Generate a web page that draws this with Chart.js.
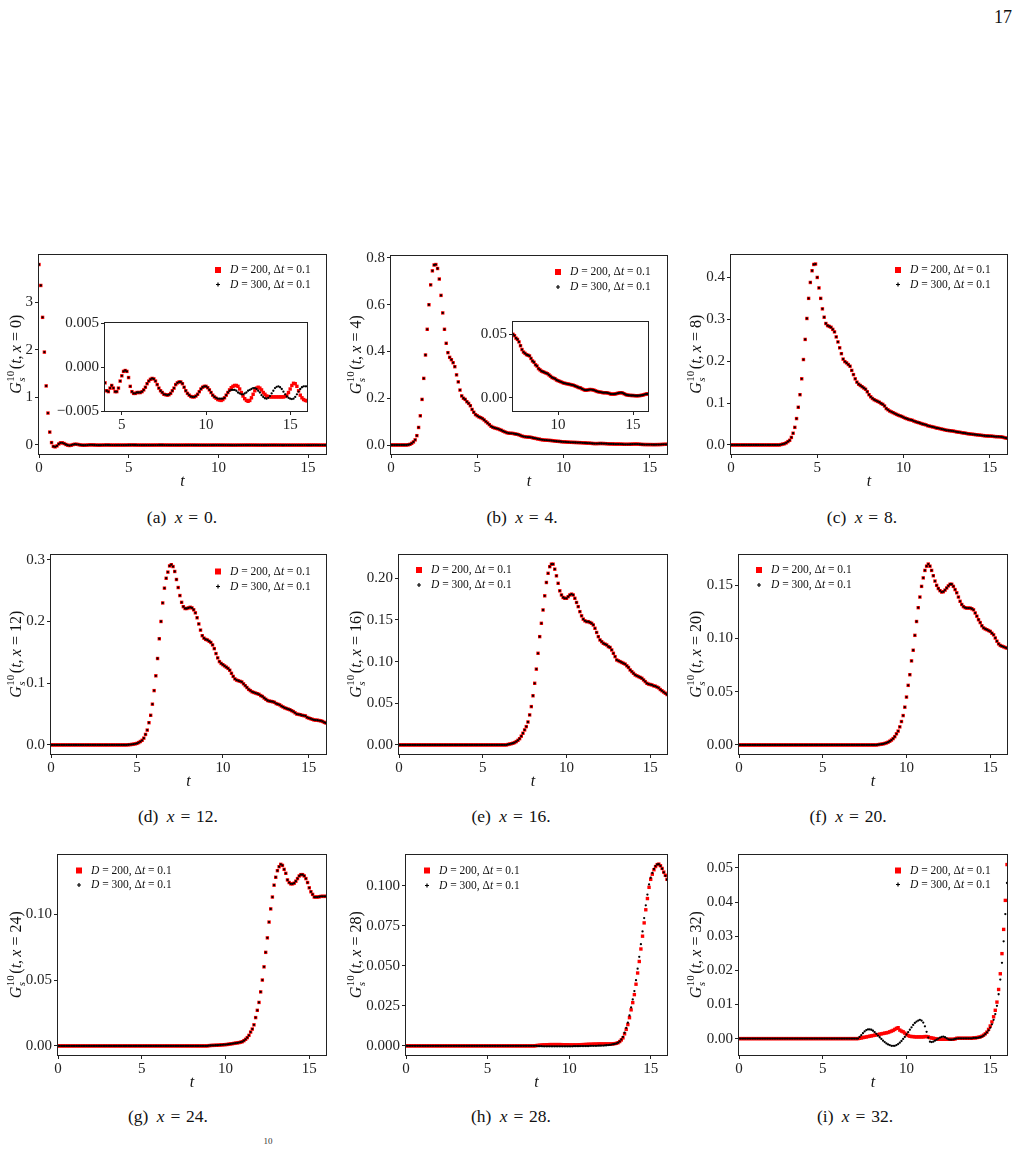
<!DOCTYPE html>
<html>
<head>
<meta charset="utf-8">
<script src="https://cdn.jsdelivr.net/npm/chart.js@4.4.1/dist/chart.umd.min.js"></script>
<style>
  body { margin: 0; width: 1021px; height: 1150px; position: relative; overflow: hidden; background: #fff;
         font-family: "Liberation Serif", serif; color: #111; }
  canvas { position: absolute; }
  .cap { position: absolute; font-size: 17.5px; white-space: nowrap; transform: translate(-50%, -50%); word-spacing: 4px; }
</style>
</head>
<body>
<div class="cap" style="left:1003px;top:17px;font-size:18px">17</div>
<div class="cap" style="left:182px;top:517px">(a) <i>x</i>&#8196;=&#8196;0.</div>
<div class="cap" style="left:522px;top:517px">(b) <i>x</i>&#8196;=&#8196;4.</div>
<div class="cap" style="left:862px;top:517px">(c) <i>x</i>&#8196;=&#8196;8.</div>
<div class="cap" style="left:178px;top:816px">(d) <i>x</i>&#8196;=&#8196;12.</div>
<div class="cap" style="left:511px;top:816px">(e) <i>x</i>&#8196;=&#8196;16.</div>
<div class="cap" style="left:848px;top:816px">(f) <i>x</i>&#8196;=&#8196;20.</div>
<div class="cap" style="left:168px;top:1116px">(g) <i>x</i>&#8196;=&#8196;24.</div>
<div class="cap" style="left:511px;top:1116px">(h) <i>x</i>&#8196;=&#8196;28.</div>
<div class="cap" style="left:855px;top:1116px">(i) <i>x</i>&#8196;=&#8196;32.</div>
<div class="cap" style="left:268px;top:1141px;font-size:9px;color:#333">10</div>

<script>
// tiempos t (paso 0.1)
const T = [
  0,0.1,0.2,0.3,0.4,0.5,0.6,0.7,0.8,0.9,
  1,1.1,1.2,1.3,1.4,1.5,1.6,1.7,1.8,1.9,
  2,2.1,2.2,2.3,2.4,2.5,2.6,2.7,2.8,2.9,
  3,3.1,3.2,3.3,3.4,3.5,3.6,3.7,3.8,3.9,
  4,4.1,4.2,4.3,4.4,4.5,4.6,4.7,4.8,4.9,
  5,5.1,5.2,5.3,5.4,5.5,5.6,5.7,5.8,5.9,
  6,6.1,6.2,6.3,6.4,6.5,6.6,6.7,6.8,6.9,
  7,7.1,7.2,7.3,7.4,7.5,7.6,7.7,7.8,7.9,
  8,8.1,8.2,8.3,8.4,8.5,8.6,8.7,8.8,8.9,
  9,9.1,9.2,9.3,9.4,9.5,9.6,9.7,9.8,9.9,
  10,10.1,10.2,10.3,10.4,10.5,10.6,10.7,10.8,10.9,
  11,11.1,11.2,11.3,11.4,11.5,11.6,11.7,11.8,11.9,
  12,12.1,12.2,12.3,12.4,12.5,12.6,12.7,12.8,12.9,
  13,13.1,13.2,13.3,13.4,13.5,13.6,13.7,13.8,13.9,
  14,14.1,14.2,14.3,14.4,14.5,14.6,14.7,14.8,14.9,
  15,15.1,15.2,15.3,15.4,15.5,15.6,15.7,15.8,15.9,
  16
];

// (a) x = 0
const A200 = [
  3.79,3.35,2.68,1.95,1.24,0.67,0.27,0.05,-0.03,-0.04,
  -0.02,0.02,0.045,0.045,0.03,0.01,-0.005,-0.012,-0.005,0.008,
  0.015,0.014,0.008,0,-0.004,-0.006,-0.005,-0.002,0.001,0.002,
  0.001,-0.001,-0.003,-0.004,-0.004,-0.003,-0.002,-0.001,-0.0008,-0.0012,
  -0.0018,-0.0027,-0.0028,-0.0024,-0.0021,-0.0024,-0.0028,-0.0028,-0.0024,-0.0016,
  -0.0010,-0.0005,-0.0004,-0.0005,-0.0012,-0.0022,-0.0028,-0.0030,-0.0030,-0.0029,
  -0.0029,-0.0029,-0.0028,-0.0026,-0.0023,-0.0019,-0.0016,-0.0014,-0.0013,-0.00135,
  -0.0016,-0.0020,-0.0024,-0.0027,-0.0029,-0.0031,-0.00315,-0.0032,-0.00315,-0.0030,
  -0.0027,-0.0024,-0.0020,-0.0018,-0.0017,-0.0017,-0.0019,-0.0023,-0.0027,-0.0030,
  -0.0032,-0.00335,-0.0034,-0.0034,-0.0033,-0.0031,-0.0028,-0.0025,-0.0023,-0.0022,
  -0.0022,-0.00235,-0.0026,-0.0029,-0.0032,-0.0034,-0.00355,-0.0037,-0.00375,-0.0038,
  -0.0037,-0.0035,-0.0032,-0.0029,-0.0026,-0.00235,-0.0022,-0.0021,-0.0021,-0.0022,
  -0.0025,-0.0029,-0.0033,-0.0036,-0.0038,-0.0039,-0.0038,-0.0035,-0.0031,-0.0027,
  -0.0024,-0.0023,-0.0024,-0.0026,-0.0029,-0.0031,-0.0033,-0.00335,-0.0034,-0.0034,
  -0.0034,-0.0034,-0.0034,-0.0034,-0.0034,-0.0034,-0.0034,-0.00335,-0.0032,-0.0029,
  -0.0025,-0.0021,-0.00185,-0.0019,-0.0022,-0.0027,-0.0032,-0.0035,-0.0037,-0.0038,
  -0.00385
];
const A300 = [
  3.79,3.35,2.68,1.95,1.24,0.67,0.27,0.05,-0.03,-0.04,
  -0.02,0.02,0.045,0.045,0.03,0.01,-0.005,-0.012,-0.005,0.008,
  0.015,0.014,0.008,0,-0.004,-0.006,-0.005,-0.002,0.001,0.002,
  0.001,-0.001,-0.003,-0.004,-0.004,-0.003,-0.002,-0.001,-0.0008,-0.0012,
  -0.0018,-0.0027,-0.0028,-0.0024,-0.0021,-0.0024,-0.0028,-0.0028,-0.0024,-0.0016,
  -0.0010,-0.0005,-0.0004,-0.0005,-0.0012,-0.0022,-0.0028,-0.0030,-0.0030,-0.0029,
  -0.0029,-0.0029,-0.0028,-0.0026,-0.0023,-0.0019,-0.0016,-0.0014,-0.0013,-0.00135,
  -0.0016,-0.0020,-0.0024,-0.0027,-0.0029,-0.0031,-0.00315,-0.0032,-0.00315,-0.0030,
  -0.0027,-0.0024,-0.0020,-0.0018,-0.0017,-0.0017,-0.0019,-0.0023,-0.0027,-0.0030,
  -0.0032,-0.00335,-0.0034,-0.0034,-0.0033,-0.0031,-0.0028,-0.0025,-0.0023,-0.0022,
  -0.0022,-0.00235,-0.0026,-0.0029,-0.0032,-0.0034,-0.0035,-0.0036,-0.0036,-0.0036,
  -0.0036,-0.0035,-0.0032,-0.0029,-0.0027,-0.0026,-0.0026,-0.0026,-0.0027,-0.0029,
  -0.0030,-0.0031,-0.0031,-0.0030,-0.0029,-0.0027,-0.0026,-0.0025,-0.0024,-0.0024,
  -0.0025,-0.0027,-0.0029,-0.0032,-0.0034,-0.00355,-0.0036,-0.0035,-0.0033,-0.0030,
  -0.0027,-0.0024,-0.00225,-0.0022,-0.0023,-0.0025,-0.0028,-0.0031,-0.00335,-0.0035,
  -0.0036,-0.00365,-0.0036,-0.0034,-0.0031,-0.0028,-0.0025,-0.0023,-0.0022,-0.0022,
  -0.0022
];

// (b) x = 4 (D=200 y D=300 coinciden)
const B = [
  0,0,0,0,0,0,0,0,0,0,
  0.001,0.003,0.007,0.013,0.022,0.04,0.075,0.125,0.195,0.285,
  0.385,0.495,0.60,0.685,0.745,0.77,0.772,0.755,0.71,0.64,
  0.565,0.495,0.435,0.395,0.375,0.365,0.352,0.335,0.30,0.27,
  0.235,0.21,0.20,0.195,0.185,0.178,0.168,0.152,0.14,0.13,
  0.125,0.12,0.117,0.113,0.107,0.10,0.094,0.087,0.08,0.076,
  0.073,0.071,0.069,0.066,0.063,0.059,0.056,0.053,0.051,0.05,
  0.05,0.049,0.047,0.046,0.044,0.041,0.038,0.036,0.035,0.034,
  0.0335,0.033,0.031,0.029,0.028,0.026,0.025,0.023,0.022,0.021,
  0.0205,0.02,0.0195,0.019,0.018,0.017,0.016,0.0155,0.015,0.014,
  0.0135,0.013,0.0125,0.012,0.0115,0.0113,0.011,0.0108,0.0105,0.0102,
  0.01,0.0095,0.009,0.0085,0.008,0.0078,0.007,0.0065,0.006,0.006,
  0.0062,0.0065,0.0065,0.0063,0.006,0.0055,0.005,0.0047,0.0045,0.0043,
  0.004,0.004,0.004,0.0038,0.0035,0.003,0.0029,0.0029,0.003,0.0033,
  0.0036,0.0039,0.004,0.0038,0.0032,0.0026,0.0022,0.002,0.0019,0.0018,
  0.0018,0.0017,0.0016,0.0016,0.0017,0.0018,0.002,0.0023,0.0027,0.003,
  0.003
];

// (c) x = 8
const C = [
  0,0,0,0,0,0,0,0,0,0,
  0,0,0,0,0,0,0,0,0,0,
  0,0,0,0,0,0,0,0,0,0.001,
  0.002,0.003,0.005,0.008,0.011,0.018,0.028,0.042,0.063,0.09,
  0.12,0.158,0.204,0.252,0.302,0.35,0.388,0.416,0.431,0.432,
  0.40,0.375,0.35,0.325,0.305,0.29,0.285,0.283,0.281,0.276,
  0.27,0.258,0.246,0.232,0.218,0.205,0.199,0.196,0.192,0.188,
  0.178,0.168,0.158,0.15,0.145,0.142,0.139,0.136,0.133,0.127,
  0.12,0.115,0.111,0.108,0.106,0.104,0.102,0.099,0.097,0.093,
  0.087,0.084,0.081,0.079,0.077,0.075,0.073,0.071,0.0695,0.068,
  0.066,0.064,0.0626,0.061,0.06,0.059,0.057,0.0555,0.054,0.053,
  0.0515,0.05,0.049,0.048,0.046,0.045,0.044,0.043,0.042,0.0405,
  0.04,0.039,0.038,0.037,0.036,0.035,0.0345,0.034,0.0335,0.033,
  0.032,0.031,0.0305,0.03,0.029,0.0285,0.028,0.027,0.0265,0.026,
  0.0255,0.025,0.0245,0.024,0.0235,0.023,0.0225,0.022,0.0215,0.0214,
  0.0212,0.021,0.0205,0.02,0.0198,0.0197,0.0195,0.019,0.018,0.0168,
  0.016
];

// (d) x = 12
const D = [
  0,0,0,0,0,0,0,0,0,0,
  0,0,0,0,0,0,0,0,0,0,
  0,0,0,0,0,0,0,0,0,0,
  0,0,0,0,0,0,0,0,0,0,
  0,0,0,0,0,0.0003,0.0005,0.0008,0.0012,0.0018,
  0.0025,0.0038,0.0055,0.0075,0.011,0.017,0.024,0.036,0.048,0.066,
  0.088,0.112,0.14,0.172,0.2,0.23,0.254,0.27,0.28,0.29,
  0.292,0.289,0.281,0.268,0.255,0.242,0.231,0.224,0.221,0.221,
  0.222,0.223,0.222,0.219,0.214,0.206,0.196,0.186,0.177,0.173,
  0.171,0.17,0.168,0.166,0.162,0.156,0.148,0.141,0.135,0.132,
  0.13,0.128,0.126,0.124,0.121,0.116,0.111,0.107,0.105,0.104,
  0.103,0.102,0.099,0.096,0.093,0.09,0.088,0.086,0.085,0.084,
  0.083,0.082,0.08,0.0785,0.076,0.074,0.072,0.071,0.0705,0.07,
  0.069,0.067,0.066,0.065,0.063,0.0615,0.06,0.059,0.058,0.057,
  0.0555,0.054,0.052,0.05,0.0495,0.049,0.048,0.0475,0.047,0.0445,
  0.0435,0.0425,0.0415,0.0405,0.0402,0.04,0.0395,0.039,0.038,0.0365,
  0.0355
];

// (e) x = 16
const E = [
  0,0,0,0,0,0,0,0,0,0,
  0,0,0,0,0,0,0,0,0,0,
  0,0,0,0,0,0,0,0,0,0,
  0,0,0,0,0,0,0,0,0,0,
  0,0,0,0,0,0,0,0,0,0,
  0,0,0,0,0,0,0,0,0,0,
  0,0,0,0,0,0.0005,0.001,0.0015,0.002,0.0028,
  0.004,0.0055,0.0075,0.0105,0.014,0.018,0.022,0.0275,0.036,0.046,
  0.059,0.074,0.091,0.11,0.13,0.146,0.162,0.179,0.195,0.206,
  0.214,0.217,0.217,0.211,0.203,0.194,0.185,0.18,0.177,0.176,
  0.176,0.178,0.18,0.181,0.18,0.176,0.171,0.166,0.16,0.155,
  0.151,0.149,0.148,0.148,0.147,0.146,0.144,0.14,0.135,0.13,
  0.126,0.124,0.122,0.121,0.12,0.118,0.117,0.114,0.11,0.106,
  0.102,0.101,0.1,0.099,0.098,0.097,0.095,0.093,0.09,0.088,
  0.086,0.084,0.083,0.082,0.081,0.08,0.078,0.076,0.074,0.073,
  0.0725,0.072,0.071,0.0705,0.0695,0.0685,0.0665,0.065,0.0635,0.062,
  0.0605
];

// (f) x = 20
const F = [
  0,0,0,0,0,0,0,0,0,0,
  0,0,0,0,0,0,0,0,0,0,
  0,0,0,0,0,0,0,0,0,0,
  0,0,0,0,0,0,0,0,0,0,
  0,0,0,0,0,0,0,0,0,0,
  0,0,0,0,0,0,0,0,0,0,
  0,0,0,0,0,0,0,0,0,0,
  0,0,0,0,0,0,0,0,0,0,
  0,0,0,0.0003,0.0005,0.0007,0.001,0.0014,0.0019,0.0026,
  0.0035,0.0046,0.006,0.0078,0.0105,0.013,0.017,0.022,0.0276,0.0355,
  0.045,0.056,0.066,0.079,0.089,0.103,0.116,0.129,0.139,0.149,
  0.157,0.164,0.168,0.17,0.168,0.164,0.159,0.154,0.15,0.147,
  0.145,0.1437,0.144,0.1455,0.1475,0.1495,0.151,0.151,0.149,0.146,
  0.143,0.139,0.135,0.132,0.13,0.129,0.1286,0.1286,0.1286,0.128,
  0.127,0.124,0.121,0.1177,0.115,0.112,0.11,0.109,0.1083,0.1075,
  0.1067,0.105,0.1035,0.1005,0.0975,0.095,0.0935,0.0928,0.0922,0.0915,
  0.091
];

// (g) x = 24
const G = [
  0,0,0,0,0,0,0,0,0,0,
  0,0,0,0,0,0,0,0,0,0,
  0,0,0,0,0,0,0,0,0,0,
  0,0,0,0,0,0,0,0,0,0,
  0,0,0,0,0,0,0,0,0,0,
  0,0,0,0,0,0,0,0,0,0,
  0,0,0,0,0,0,0,0,0,0,
  0,0,0,0,0,0,0,0,0,0,
  0,0,0,0,0,0,0,0,0,0,
  0.0002,0.0003,0.0004,0.0004,0.0005,0.0005,0.0006,0.0007,0.0008,0.0009,
  0.001,0.0011,0.0013,0.0015,0.0017,0.0019,0.0021,0.0023,0.0025,0.0028,
  0.0032,0.004,0.005,0.0063,0.008,0.0105,0.0128,0.016,0.0215,0.027,
  0.033,0.041,0.05,0.06,0.071,0.082,0.094,0.104,0.113,0.122,
  0.128,0.133,0.136,0.1378,0.137,0.134,0.131,0.126,0.124,0.123,
  0.123,0.1235,0.125,0.127,0.129,0.13,0.13,0.129,0.127,0.124,
  0.12,0.117,0.115,0.113,0.113,0.113,0.1132,0.1135,0.1135,0.1135,
  0.1135
];

// (h) x = 28
const H200 = [
  0,0,0,0,0,0,0,0,0,0,
  0,0,0,0,0,0,0,0,0,0,
  0,0,0,0,0,0,0,0,0,0,
  0,0,0,0,0,0,0,0,0,0,
  0,0,0,0,0,0,0,0,0,0,
  0,0,0,0,0,0,0,0,0,0,
  0,0,0,0,0,0,0,0,0,0,
  0,0,0,0,0,0,0,0,0,0,
  0.0002,0.0003,0.0004,0.0005,0.0006,0.0006,0.0007,0.0007,0.0008,0.0008,
  0.0008,0.0008,0.0008,0.0008,0.0008,0.0008,0.0007,0.0007,0.0007,0.0007,
  0.0006,0.0006,0.0006,0.0006,0.0006,0.0006,0.0007,0.0007,0.0008,0.0008,
  0.0009,0.0009,0.001,0.001,0.001,0.0011,0.0011,0.0011,0.0012,0.0012,
  0.0012,0.0012,0.0012,0.0012,0.0012,0.0012,0.0012,0.0013,0.0014,0.0016,
  0.002,0.0027,0.0037,0.005,0.0075,0.0103,0.0133,0.0176,0.0225,0.027,
  0.032,0.0385,0.0455,0.0527,0.0605,0.0685,0.0768,0.085,0.092,0.099,
  0.104,0.1072,0.11,0.112,0.1132,0.1135,0.1125,0.1108,0.1085,0.1065,
  0.104
];
const H300 = [
  0,0,0,0,0,0,0,0,0,0,
  0,0,0,0,0,0,0,0,0,0,
  0,0,0,0,0,0,0,0,0,0,
  0,0,0,0,0,0,0,0,0,0,
  0,0,0,0,0,0,0,0,0,0,
  0,0,0,0,0,0,0,0,0,0,
  0,0,0,0,0,0,0,0,0,0,
  0,0,0,0,0,0,0,0,0,0,
  0,-0.0001,-0.0002,-0.0002,-0.0003,-0.0003,-0.0003,-0.0003,-0.0003,-0.0003,
  -0.0003,-0.0003,-0.0003,-0.0003,-0.0003,-0.0003,-0.0003,-0.0003,-0.0003,-0.0003,
  -0.0003,-0.0003,-0.0003,-0.0002,-0.0002,-0.0002,-0.0002,-0.0001,-0.0001,-0.0001,
  -0.0001,-0.0001,-0.0001,0,0,0,0,0,0.0001,0.0001,
  0.0002,0.0002,0.0003,0.0004,0.0005,0.0006,0.0008,0.001,0.0012,0.0015,
  0.002,0.0028,0.004,0.0056,0.0082,0.0112,0.0145,0.019,0.024,0.029,
  0.0342,0.041,0.0482,0.0556,0.0635,0.0715,0.0798,0.0878,0.0945,0.1008,
  0.105,0.108,0.1105,0.1123,0.1134,0.1135,0.1124,0.1106,0.1083,0.1062,
  0.1038
];

// (i) x = 32
const I200 = [
  0,0,0,0,0,0,0,0,0,0,
  0,0,0,0,0,0,0,0,0,0,
  0,0,0,0,0,0,0,0,0,0,
  0,0,0,0,0,0,0,0,0,0,
  0,0,0,0,0,0,0,0,0,0,
  0,0,0,0,0,0,0,0,0,0,
  0,0,0,0,0,0,0,0,0,0,
  0,0,0.0001,0.0002,0.0003,0.0004,0.0005,0.0006,0.0007,0.0008,
  0.0009,0.001,0.0011,0.0012,0.0013,0.0014,0.0015,0.0016,0.0017,0.0018,
  0.002,0.0022,0.0024,0.0027,0.003,0.0032,0.0025,0.0022,0.002,0.0016,
  0.0012,0.0009,0.0007,0.0006,0.0006,0.0005,0.0005,0.0005,0.0005,0.0005,
  0.0005,0.0006,0.0006,0.0005,0.0003,0.0002,0.0001,0,-0.0001,-0.0002,
  -0.0002,-0.0002,-0.0002,-0.0002,-0.0002,-0.0002,-0.0002,-0.0002,-0.0002,-0.0001,
  0.0001,0.0001,0.0001,0.0001,0.0001,0.0001,0.0001,0.0001,0.0001,0.0001,
  0.0002,0.0002,0.0003,0.0004,0.0005,0.0007,0.001,0.0014,0.0019,0.0027,
  0.0037,0.0049,0.0064,0.0083,0.0107,0.0144,0.019,0.0249,0.032,0.0405,
  0.051
];
const I300 = [
  0,0,0,0,0,0,0,0,0,0,
  0,0,0,0,0,0,0,0,0,0,
  0,0,0,0,0,0,0,0,0,0,
  0,0,0,0,0,0,0,0,0,0,
  0,0,0,0,0,0,0,0,0,0,
  0,0,0,0,0,0,0,0,0,0,
  0,0,0,0,0,0,0,0,0,0,
  0,0,0.0005,0.001,0.0016,0.0021,0.0025,0.0027,0.0027,0.0026,
  0.0023,0.0019,0.0014,0.0009,0.0004,-0.0001,-0.0006,-0.001,-0.0014,-0.0017,
  -0.0019,-0.0021,-0.0021,-0.0021,-0.0019,-0.0016,-0.0012,-0.0007,-0.0001,0.0005,
  0.0012,0.0019,0.0026,0.0033,0.004,0.0046,0.005,0.0053,0.0055,0.0053,
  0.0047,0.0036,0.002,0.0003,-0.0009,-0.001,-0.0009,-0.0006,-0.0003,0,
  0.0003,0.0005,0.0006,0.0004,0.0001,-0.0002,-0.0003,-0.0003,-0.0002,-0.0001,
  0,0.0001,0.0001,0.0001,0.0001,0.0001,0.0001,0.0001,0.0001,0.0001,
  0.0002,0.0002,0.0002,0.0003,0.0004,0.0006,0.0009,0.0013,0.0018,0.0024,
  0.0032,0.0042,0.0055,0.0072,0.0096,0.013,0.0173,0.0222,0.0285,0.0365,
  0.0456
];

// marcas de los ejes
const X_TICKS = [0, 5, 10, 15];
const YT_A = [0, 1, 2, 3],              YL_A = ['0', '1', '2', '3'];
const YT_B = [0, 0.2, 0.4, 0.6, 0.8],   YL_B = ['0.0', '0.2', '0.4', '0.6', '0.8'];
const YT_C = [0, 0.1, 0.2, 0.3, 0.4],   YL_C = ['0.0', '0.1', '0.2', '0.3', '0.4'];
const YT_D = [0, 0.1, 0.2, 0.3],        YL_D = ['0.0', '0.1', '0.2', '0.3'];
const YT_E = [0, 0.05, 0.1, 0.15, 0.2], YL_E = ['0.00', '0.05', '0.10', '0.15', '0.20'];
const YT_F = [0, 0.05, 0.1, 0.15],      YL_F = ['0.00', '0.05', '0.10', '0.15'];
const YT_G = [0, 0.05, 0.1],            YL_G = ['0.00', '0.05', '0.10'];
const YT_H = [0, 0.025, 0.05, 0.075, 0.1], YL_H = ['0.000', '0.025', '0.050', '0.075', '0.100'];
const YT_I = [0, 0.01, 0.02, 0.03, 0.04, 0.05], YL_I = ['0.00', '0.01', '0.02', '0.03', '0.04', '0.05'];
const INSET_A_XT = [5, 10, 15], INSET_A_YT = [-0.005, 0, 0.005], INSET_A_YL = ['\u22120.005', '0.000', '0.005'];
const INSET_B_XT = [10, 15],    INSET_B_YT = [0, 0.05],          INSET_B_YL = ['0.00', '0.05'];

const SERIF = '"Liberation Serif", serif';
const fnt = (it, s) => (it ? 'italic ' : '') + s + 'px ' + SERIF;
const SP = '\u2005'; // espacio de 1/4 em, como el espaciado de TeX alrededor de "="

function runsWidth(ctx, runs, size) {
    let w = 0;
    runs.forEach(r => { ctx.font = fnt(r[1], size); w += ctx.measureText(r[0]).width; });
    return w;
}
function drawRuns(ctx, runs, x, y, size) {
    runs.forEach(r => {
        ctx.font = fnt(r[1], size);
        ctx.fillText(r[0], x, y);
        x += ctx.measureText(r[0]).width;
    });
}

// titulo del eje y: G_s^10(t, x = N)
function drawYTitle(ctx, cx, cy, xval) {
    const fs = 16, ss = 11;
    const rest = [['(', 0], ['t', 1], [',\u2009', 0], ['x', 1], [SP + '=' + SP + xval + ')', 0]];
    ctx.font = fnt(1, fs); const wG = ctx.measureText('G').width;
    ctx.font = fnt(0, ss); const wSup = ctx.measureText('10').width;
    const wS = wSup + 1.5;
    const total = wG + wS + runsWidth(ctx, rest, fs);
    ctx.save();
    ctx.translate(cx, cy);
    ctx.rotate(-Math.PI / 2);
    ctx.fillStyle = '#111';
    ctx.textAlign = 'left';
    ctx.textBaseline = 'alphabetic';
    let x = -total / 2;
    const base = 4;
    ctx.font = fnt(1, fs); ctx.fillText('G', x, base); x += wG + 0.5;
    ctx.font = fnt(0, ss); ctx.fillText('10', x, base - 7);
    ctx.font = fnt(1, ss); ctx.fillText('s', x, base + 3.5);
    x += wS;
    drawRuns(ctx, rest, x, base, fs);
    ctx.restore();
}

// marco, titulos y leyenda
const deco = {
    id: 'deco',
    beforeDraw(chart, args, o) {
        if (!o.fill) return;
        const a = chart.chartArea, ctx = chart.ctx;
        ctx.save(); ctx.fillStyle = '#fff';
        ctx.fillRect(a.left, a.top, a.right - a.left, a.bottom - a.top);
        ctx.restore();
    },
    afterDraw(chart, args, o) {
        const a = chart.chartArea, ctx = chart.ctx;
        ctx.save();
        ctx.strokeStyle = '#222';
        ctx.lineWidth = 1;
        ctx.strokeRect(a.left - 0.5, a.top - 0.5, a.right - a.left + 1, a.bottom - a.top + 1);
        ctx.fillStyle = '#111';
        ctx.textBaseline = 'middle';
        if (o.xTitle) {
            ctx.font = fnt(1, 16);
            ctx.textAlign = 'center';
            ctx.fillText('t', (a.left + a.right) / 2, a.bottom + 28);
        }
        if (o.yTitle) drawYTitle(ctx, o.yTitle.x, (a.top + a.bottom) / 2, o.yTitle.xval);
        if (o.legend) {
            const L = o.legend;
            ctx.textAlign = 'left';
            ctx.textBaseline = 'middle';
            // cuadrado rojo
            ctx.fillStyle = chart.data.datasets[0].backgroundColor;
            ctx.fillRect(L.x - 3, L.y1 - 3, 6, 6);
            // cruz negra
            ctx.strokeStyle = chart.data.datasets[1].backgroundColor;
            ctx.lineWidth = 1.2;
            ctx.beginPath();
            ctx.moveTo(L.x - 2, L.y2); ctx.lineTo(L.x + 2, L.y2);
            ctx.moveTo(L.x, L.y2 - 2); ctx.lineTo(L.x, L.y2 + 2);
            ctx.stroke();
            ctx.fillStyle = '#111';
            L.labels.forEach((lab, k) => {
                const runs = [['D', 1], [SP + '=' + SP + lab + ', \u0394', 0], ['t', 1], [SP + '=' + SP + '0.1', 0]];
                drawRuns(ctx, runs, L.x + 12, k === 0 ? L.y1 : L.y2, 11.5);
            });
        }
        ctx.restore();
    }
};

const pts = arr => T.map((t, i) => ({ x: t, y: arr[i] }));

function makePanel(p) {
    const [L, Tp, R, Bt] = p.rect;
    const cl = p.canvasLeft, ct = Tp - p.padT;
    const W = R + p.padR - cl, H = Bt + p.padB - ct;
    const cv = document.createElement('canvas');
    cv.width = W; cv.height = H;
    cv.style.left = cl + 'px'; cv.style.top = ct + 'px';
    document.body.appendChild(cv);
    const tickFont = { family: SERIF, size: 15 };
    const grid = { display: true, drawOnChartArea: false, drawTicks: true, tickLength: 4, color: '#222', lineWidth: 1 };
    const legend = p.legend ? { x: p.legend[0] - cl, y1: p.legend[1] - ct, y2: p.legend[2] - ct, labels: ['200', '300'] } : null;
    new Chart(cv, {
        type: 'scatter',
        data: {
            datasets: [
                { label: 'D = 200, \u0394t = 0.1', data: pts(p.red), backgroundColor: '#ff0000', pointStyle: 'rect',
                  pointRadius: 2.4, pointHoverRadius: 2.4, borderWidth: 0, order: 2, clip: 1 },
                { label: 'D = 300, \u0394t = 0.1', data: pts(p.black), backgroundColor: '#000000', pointStyle: 'circle',
                  pointRadius: 1.15, pointHoverRadius: 1.15, borderWidth: 0, order: 1, clip: 1 }
            ]
        },
        options: {
            responsive: false,
            animation: false,
            devicePixelRatio: 1,
            events: [],
            layout: { padding: { left: 0, top: p.padT, right: p.padR, bottom: 0 } },
            plugins: {
                legend: { display: false },
                tooltip: { enabled: false },
                deco: {
                    fill: !!p.inset,
                    xTitle: !p.inset,
                    yTitle: p.xval !== undefined ? { x: p.yTitleX - cl, xval: p.xval } : null,
                    legend: legend
                }
            },
            scales: {
                x: {
                    type: 'linear', min: p.xmin, max: p.xmax,
                    afterFit: s => { s.height = p.padB; },
                    afterBuildTicks: s => { s.ticks = p.xticks.map(v => ({ value: v })); },
                    ticks: { font: tickFont, color: '#222', padding: 1, maxRotation: 0, autoSkip: false,
                             callback: v => String(v) },
                    grid: grid, border: { display: false }
                },
                y: {
                    type: 'linear', min: p.ymin, max: p.ymax,
                    afterFit: s => { s.width = L - cl; },
                    afterBuildTicks: s => { s.ticks = p.yticks.map(v => ({ value: v })); },
                    ticks: { font: tickFont, color: '#222', padding: 2, autoSkip: false,
                             callback: (v, i) => p.ylabels[i] },
                    grid: grid, border: { display: false }
                }
            }
        },
        plugins: [deco]
    });
}

const COL = [0, 340, 680];
const TITLE_X = [17, 357, 697];
const PANELS = [
    { rect: [39, 255, 326, 454],  c: 0, red: A200, black: A300, ymin: -0.19,   ymax: 3.99,   yticks: YT_A, ylabels: YL_A, xval: '0',  legend: [218, 270, 284.5] },
    { rect: [391, 256, 667, 454], c: 1, red: B,    black: B,    ymin: -0.0385, ymax: 0.8085, yticks: YT_B, ylabels: YL_B, xval: '4',  legend: [558, 272, 287] },
    { rect: [731, 255, 1007, 454],c: 2, red: C,    black: C,    ymin: -0.0216, ymax: 0.4536, yticks: YT_C, ylabels: YL_C, xval: '8',  legend: [898, 270, 284.5] },
    { rect: [51, 555, 326, 754],  c: 0, red: D,    black: D,    ymin: -0.0147, ymax: 0.3077, yticks: YT_D, ylabels: YL_D, xval: '12', legend: [218, 571.5, 586.5] },
    { rect: [399, 555, 667, 754], c: 1, red: E,    black: E,    ymin: -0.0109, ymax: 0.228,  yticks: YT_E, ylabels: YL_E, xval: '16', legend: [419, 570, 585] },
    { rect: [739, 555, 1007, 754],c: 2, red: F,    black: F,    ymin: -0.0085, ymax: 0.1785, yticks: YT_F, ylabels: YL_F, xval: '20', legend: [759, 570, 585] },
    { rect: [58, 855, 326, 1055], c: 0, red: G,    black: G,    ymin: -0.0069, ymax: 0.1449, yticks: YT_G, ylabels: YL_G, xval: '24', legend: [79, 870.5, 885] },
    { rect: [406, 855, 667, 1055],c: 1, red: H200, black: H300, ymin: -0.0057, ymax: 0.1192, yticks: YT_H, ylabels: YL_H, xval: '28', legend: [427, 870.5, 885.5] },
    { rect: [739, 855, 1007, 1055],c: 2, red: I200, black: I300, ymin: -0.0048, ymax: 0.0538, yticks: YT_I, ylabels: YL_I, xval: '32', legend: [898, 870.5, 884.5] }
];

PANELS.forEach(p => {
    makePanel(Object.assign({}, p, {
        canvasLeft: COL[p.c], padT: 12, padR: 8, padB: 40,
        xmin: 0, xmax: 16, xticks: X_TICKS, yTitleX: TITLE_X[p.c]
    }));
});

// recuadros interiores (a) y (b)
makePanel({ inset: true, rect: [105, 323, 307, 411], canvasLeft: 50, padT: 12, padR: 4, padB: 22,
            red: A200, black: A300, xmin: 4, xmax: 16, xticks: INSET_A_XT,
            ymin: -0.005, ymax: 0.005, yticks: INSET_A_YT, ylabels: INSET_A_YL });
makePanel({ inset: true, rect: [513, 322, 648, 411], canvasLeft: 470, padT: 12, padR: 4, padB: 22,
            red: B, black: B, xmin: 7, xmax: 16, xticks: INSET_B_XT,
            ymin: -0.0104, ymax: 0.0597, yticks: INSET_B_YT, ylabels: INSET_B_YL });
</script>
</body>
</html>
